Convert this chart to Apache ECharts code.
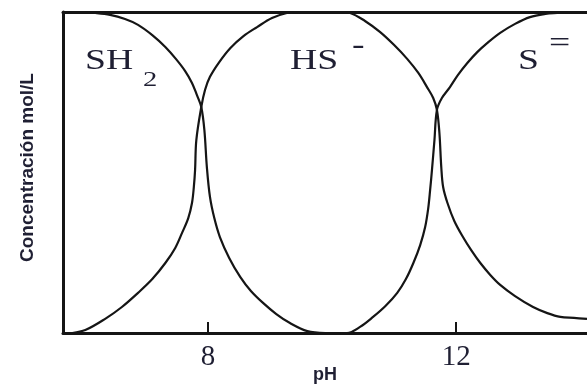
<!DOCTYPE html>
<html>
<head>
<meta charset="utf-8">
<script src="https://cdn.jsdelivr.net/npm/echarts@6/dist/echarts.min.js"></script>
<style>html,body{margin:0;padding:0;background:#fff}</style>
</head>
<body>
<div id="main" style="width:587px;height:388px;"></div>
<script>
// ticks shown on the pH axis
const phTicks = [8, 12];

// curves: pH and fraction (0..1 of the axis height)
const phSH2 = [5.66, 5.94, 6.18, 6.42, 6.66, 6.87, 7.1, 7.31, 7.48, 7.63, 7.74, 7.82, 7.89, 7.94, 7.98, 8.03, 8.1, 8.19, 8.34, 8.52, 8.69, 8.89, 9.1, 9.32, 9.6, 9.89];
const valSH2 = [1, 1, 0.997, 0.991, 0.978, 0.96, 0.928, 0.891, 0.854, 0.816, 0.779, 0.741, 0.704, 0.632, 0.517, 0.424, 0.358, 0.299, 0.234, 0.174, 0.131, 0.093, 0.059, 0.031, 0.006, 0];

const phHS = [5.81, 6.02, 6.34, 6.61, 6.87, 7.1, 7.31, 7.47, 7.58, 7.68, 7.74, 7.77, 7.79, 7.81, 7.89, 7.95, 8.03, 8.18, 8.36, 8.57, 8.79, 9.03, 9.27, 9.48, 10.13, 10.29, 10.53, 10.77, 11.0, 11.21, 11.39, 11.53, 11.63, 11.69, 11.73, 11.76, 11.79, 11.86, 11.97, 12.11, 12.24, 12.39, 12.55, 12.71, 12.95, 13.24, 13.47, 13.68, 13.9, 14.11];
const valHS = [0, 0.009, 0.044, 0.081, 0.125, 0.168, 0.218, 0.265, 0.312, 0.358, 0.405, 0.455, 0.508, 0.601, 0.704, 0.757, 0.798, 0.844, 0.888, 0.925, 0.953, 0.981, 0.997, 1, 1, 0.997, 0.972, 0.938, 0.897, 0.854, 0.81, 0.766, 0.732, 0.695, 0.623, 0.517, 0.455, 0.405, 0.349, 0.299, 0.259, 0.218, 0.181, 0.15, 0.115, 0.081, 0.062, 0.05, 0.047, 0.044];

const phS = [10.13, 10.24, 10.45, 10.66, 10.86, 11.05, 11.19, 11.31, 11.42, 11.5, 11.55, 11.58, 11.61, 11.65, 11.69, 11.77, 11.9, 12.03, 12.18, 12.34, 12.5, 12.71, 12.95, 13.19, 13.44, 13.63, 13.87, 14.11];
const valS = [0, 0, 0.019, 0.05, 0.084, 0.125, 0.168, 0.218, 0.274, 0.33, 0.389, 0.445, 0.508, 0.601, 0.695, 0.732, 0.766, 0.804, 0.841, 0.875, 0.903, 0.935, 0.963, 0.984, 0.994, 0.997, 1, 1];

function pairs(xs, ys) {
  return xs.map((x, i) => [x, ys[i]]);
}

var myChart = echarts.init(document.getElementById('main'));

const ink = '#151515';
const textInk = '#1f1f33';
const serif = '"Liberation Serif", "Times New Roman", serif';
const sans = '"Liberation Sans", Arial, sans-serif';

function curve(name, data) {
  return {
    name: name,
    type: 'line',
    data: data,
    smooth: 0.35,
    showSymbol: false,
    lineStyle: { color: ink, width: 2.2 }
  };
}

function label(text, x, y, size) {
  return {
    type: 'text',
    x: x,
    y: y,
    scaleX: 1.3,
    style: {
      text: text,
      font: size + 'px ' + serif,
      fill: textInk,
      verticalAlign: 'middle'
    }
  };
}

let option = {
  animation: false,
  backgroundColor: '#fff',
  grid: { left: 63, right: 0, top: 12, bottom: 55, outerBoundsMode: 'none' },
  xAxis: [
    {
      type: 'value',
      min: 5.66,
      max: 14.11,
      axisLine: { onZero: false, lineStyle: { color: ink, width: 3 } },
      axisTick: { customValues: phTicks, inside: true, length: 11, lineStyle: { color: ink, width: 2 } },
      axisLabel: { customValues: phTicks, fontFamily: serif, fontSize: 29, color: textInk, margin: 10 },
      splitLine: { show: false },
      name: 'pH',
      nameLocation: 'middle',
      nameGap: 33,
      nameMoveOverlap: false,
      nameTextStyle: { fontFamily: sans, fontWeight: 'bold', fontSize: 18, color: textInk }
    },
    {
      type: 'value',
      position: 'top',
      min: 5.66,
      max: 14.11,
      axisLine: { show: true, onZero: false, lineStyle: { color: ink, width: 3 } },
      axisTick: { show: false },
      axisLabel: { show: false },
      splitLine: { show: false }
    }
  ],
  yAxis: {
    type: 'value',
    min: 0,
    max: 1,
    axisLine: { show: true, onZero: false, lineStyle: { color: ink, width: 3 } },
    axisTick: { show: false },
    axisLabel: { show: false },
    splitLine: { show: false },
    name: 'Concentración mol/L',
    nameLocation: 'middle',
    nameGap: 26,
    nameTextStyle: { fontFamily: sans, fontWeight: 'bold', fontSize: 19, color: textInk, padding: [0, 0, 0, 10] }
  },
  series: [
    curve('SH2', pairs(phSH2, valSH2)),
    curve('HS-', pairs(phHS, valHS)),
    curve('S=', pairs(phS, valS))
  ],
  graphic: [
    label('SH', 85, 61, 29),
    label('2', 143, 80, 22),
    label('HS', 290, 61, 29),
    label('-', 352, 46, 29),
    label('S', 518, 61, 29),
    label('=', 549, 44, 29)
  ]
};

myChart.setOption(option);
window.addEventListener('resize', function () {
  myChart.resize();
});
</script>
</body>
</html>
